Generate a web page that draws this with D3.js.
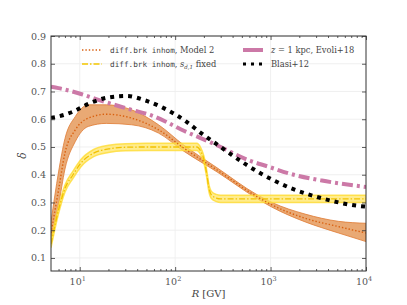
<!DOCTYPE html>
<html>
<head>
<meta charset="utf-8">
<script src="https://cdn.jsdelivr.net/npm/d3@7"></script>
<style>
  body { margin: 0; background: #fff; }
  svg text { font-family: "DejaVu Serif", "Liberation Serif", serif; }
  .mono { font-family: "DejaVu Sans Mono", "Liberation Mono", monospace; }
</style>
</head>
<body>
<svg id="chart" width="407" height="305"></svg>
<script>
// ---- data ----
let modelR     = [5, 6, 7, 9, 12.3, 19, 35, 67, 123, 275, 721, 1035, 2306, 5150, 10000];
let modelMid   = [0.19, 0.345, 0.478, 0.562, 0.604, 0.618, 0.604, 0.562, 0.496, 0.417, 0.321, 0.291, 0.243, 0.213, 0.19];
let modelLow   = [0.165, 0.29, 0.42, 0.52, 0.574, 0.585, 0.58, 0.55, 0.485, 0.41, 0.314, 0.283, 0.23, 0.19, 0.159];
let modelHigh  = [0.23, 0.41, 0.53, 0.61, 0.652, 0.652, 0.634, 0.58, 0.507, 0.425, 0.328, 0.3, 0.258, 0.232, 0.225];

let fixedR     = [5, 6, 7, 8.5, 10.3, 14, 20, 30, 50, 100, 169, 185, 200, 215, 225, 240, 270, 300, 1000, 10000];
let fixedMid   = [0.15, 0.273, 0.35, 0.40, 0.442, 0.478, 0.493, 0.499, 0.5, 0.5, 0.5, 0.485, 0.455, 0.40, 0.355, 0.327, 0.316, 0.313, 0.313, 0.313];
let fixedHalf  = 0.013;

let evoliR     = [5, 6, 10.5, 15.7, 26.5, 35, 57, 79, 117, 180, 260, 614, 930, 1545, 3450, 10000];
let evoliDelta = [0.717, 0.712, 0.69, 0.67, 0.646, 0.634, 0.613, 0.592, 0.562, 0.534, 0.51, 0.45, 0.43, 0.405, 0.379, 0.356];

let blasiR     = [5, 5.6, 8.6, 12.8, 19.6, 31, 48.4, 74, 130, 187, 270, 394, 574, 832, 1545, 3450, 8700, 10000];
let blasiDelta = [0.605, 0.608, 0.628, 0.658, 0.678, 0.684, 0.668, 0.642, 0.592, 0.55, 0.511, 0.471, 0.433, 0.40, 0.355, 0.315, 0.287, 0.285];

let yTicks = [0.1, 0.2, 0.3, 0.4, 0.5, 0.6, 0.7, 0.8, 0.9];
let xTicks = [10, 100, 1000, 10000];
let xTickExp = ['1', '2', '3', '4'];

// ---- layout ----
let svg = d3.select('#chart');
let pad = {t: 36, r: 41, b: 34, l: 51};
let W = 407 - pad.l - pad.r;
let H = 305 - pad.t - pad.b;

let xScale = d3.scaleLog().domain([5, 10000]).range([0, W]);
let yScale = d3.scaleLinear().domain([0.053, 0.9]).range([H, 0]);

let g = svg.append('g').attr('transform', `translate(${pad.l},${pad.t})`);

// grid
g.append('g').selectAll('line').data(yTicks).join('line')
    .attr('x1', 0).attr('x2', W)
    .attr('y1', d => yScale(d)).attr('y2', d => yScale(d))
    .attr('stroke', '#ececec').attr('stroke-width', 0.8);
g.append('g').selectAll('line').data(xTicks.slice(0, 3)).join('line')
    .attr('x1', d => xScale(d)).attr('x2', d => xScale(d))
    .attr('y1', 0).attr('y2', H)
    .attr('stroke', '#ececec').attr('stroke-width', 0.8);

// curves
let lineFun = (xs) => d3.line()
    .x((d, i) => xScale(xs[i]))
    .y(d => yScale(d))
    .curve(d3.curveMonotoneX);

g.append('clipPath').attr('id', 'plotclip')
    .append('rect').attr('width', W).attr('height', H);
let plot = g.append('g').attr('clip-path', 'url(#plotclip)');

// orange band (Model 2)
let bandArea = d3.area()
    .x((d, i) => xScale(modelR[i]))
    .y0((d, i) => yScale(modelLow[i]))
    .y1((d, i) => yScale(modelHigh[i]))
    .curve(d3.curveMonotoneX);
plot.append('path').datum(modelMid)
    .attr('d', bandArea)
    .attr('fill', '#e59a5c').attr('fill-opacity', 0.85)
    .attr('stroke', '#e07b34').attr('stroke-width', 0.8);

// yellow band (s_d,1 fixed)
let fixedArea = d3.area()
    .x((d, i) => xScale(fixedR[i]))
    .y0(d => yScale(d - fixedHalf))
    .y1(d => yScale(d + fixedHalf))
    .curve(d3.curveMonotoneX);
plot.append('path').datum(fixedMid)
    .attr('d', fixedArea)
    .attr('fill', '#ffe45c').attr('fill-opacity', 0.7)
    .attr('stroke', '#ffdc33').attr('stroke-width', 1.5).attr('stroke-opacity', 0.8);
plot.append('path').datum(fixedMid)
    .attr('d', lineFun(fixedR))
    .attr('fill', 'none').attr('stroke', '#f2c200').attr('stroke-width', 1.3)
    .attr('stroke-dasharray', '6,2,1.5,2');

// orange median
plot.append('path').datum(modelMid)
    .attr('d', lineFun(modelR))
    .attr('fill', 'none').attr('stroke', '#d9600f').attr('stroke-width', 1.4)
    .attr('stroke-dasharray', '1.4,2');

// Evoli+18
plot.append('path').datum(evoliDelta)
    .attr('d', lineFun(evoliR))
    .attr('fill', 'none').attr('stroke', '#cc79a7').attr('stroke-width', 4)
    .attr('stroke-dasharray', '11,4,3,4');

// Blasi+12
plot.append('path').datum(blasiDelta)
    .attr('d', lineFun(blasiR))
    .attr('fill', 'none').attr('stroke', '#000').attr('stroke-width', 4)
    .attr('stroke-dasharray', '4,5');

// axes
let axisColor = '#333';
let minorTicks = [];
[1, 10, 100, 1000].forEach(dec => {
    for (let k = 2; k <= 9; k++) {
        let v = dec * k;
        if (v > 5 && v < 10000) minorTicks.push(v);
    }
});
minorTicks = minorTicks.filter(v => xTicks.indexOf(v) < 0);

let xBottom = g.append('g').attr('transform', `translate(0,${H})`)
    .call(d3.axisBottom(xScale).tickValues(xTicks).tickSize(-4).tickFormat(''));
let xBottomMinor = g.append('g').attr('transform', `translate(0,${H})`)
    .call(d3.axisBottom(xScale).tickValues(minorTicks).tickSize(-2).tickFormat(''));
let xTop = g.append('g')
    .call(d3.axisTop(xScale).tickValues(xTicks).tickSize(-4).tickFormat(''));
let xTopMinor = g.append('g')
    .call(d3.axisTop(xScale).tickValues(minorTicks).tickSize(-2).tickFormat(''));
let yLeft = g.append('g')
    .call(d3.axisLeft(yScale).tickValues(yTicks).tickSize(-4).tickFormat(''));
let yRight = g.append('g').attr('transform', `translate(${W},0)`)
    .call(d3.axisRight(yScale).tickValues(yTicks).tickSize(-4).tickFormat(''));

[xBottom, xBottomMinor, xTop, xTopMinor, yLeft, yRight].forEach(a => {
    a.select('.domain').remove();
    a.selectAll('line').attr('stroke', axisColor).attr('stroke-width', 0.8);
});
g.append('rect').attr('width', W).attr('height', H)
    .attr('fill', 'none').attr('stroke', axisColor).attr('stroke-width', 1);

// tick labels
g.append('g').selectAll('text').data(yTicks).join('text')
    .attr('x', -5).attr('y', d => yScale(d) + 3.5)
    .attr('text-anchor', 'end')
    .style('font-size', '9.5px').attr('fill', '#555')
    .text(d => d.toFixed(1));

let xl = g.append('g').selectAll('text').data(xTicks).join('text')
    .attr('x', d => xScale(d) - 2).attr('y', H + 14)
    .attr('text-anchor', 'middle')
    .style('font-size', '9.5px').attr('fill', '#555');
xl.append('tspan').text('10');
xl.append('tspan').attr('dy', -4).style('font-size', '6.5px').text((d, i) => xTickExp[i]);

// axis titles
let xTitle = svg.append('text')
    .attr('x', pad.l + W / 2).attr('y', 297)
    .attr('text-anchor', 'middle')
    .style('font-size', '10px').attr('fill', '#444');
xTitle.append('tspan').style('font-style', 'italic').text('R');
xTitle.append('tspan').text(' [GV]');

svg.append('text')
    .attr('transform', `translate(26,${pad.t + H / 2 + 2}) rotate(-90)`)
    .attr('text-anchor', 'middle')
    .style('font-size', '10.5px').style('font-style', 'italic').attr('fill', '#444')
    .text('δ');

// legend
let legend = g.append('g').attr('class', 'legend');
let legItems = [
    {x: 31, y: 14, color: '#d9600f', width: 1.4, dash: '1.4,2', mono: 'diff.brk inhom', rest: ', Model 2'},
    {x: 31, y: 28, color: '#f5c800', width: 1.5, dash: '6,2,1.5,2', mono: 'diff.brk inhom', sub: 'd,1', tail: ' fixed'},
    {x: 192, y: 14, color: '#cc79a7', width: 4, dash: null, italic: 'z', rest: ' = 1 kpc, Evoli+18'},
    {x: 192, y: 28, color: '#000', width: 3, dash: '3,5', rest: 'Blasi+12'}
];
legItems.forEach(it => {
    let row = legend.append('g').attr('transform', `translate(${it.x},${it.y})`);
    row.append('line')
        .attr('x1', 0).attr('x2', 20).attr('y1', 0).attr('y2', 0)
        .attr('stroke', it.color).attr('stroke-width', it.width)
        .attr('stroke-dasharray', it.dash);
    let t = row.append('text').attr('x', 28).attr('y', 3)
        .style('font-size', '8.3px').attr('fill', '#444');
    if (it.mono) t.append('tspan').attr('class', 'mono').style('font-size', '7.7px').text(it.mono);
    if (it.italic) t.append('tspan').style('font-style', 'italic').text(it.italic);
    if (it.sub) {
        t.append('tspan').text(', ');
        t.append('tspan').style('font-style', 'italic').text('s');
        t.append('tspan').attr('dy', 2).style('font-size', '5.5px').style('font-style', 'italic').text(it.sub);
        t.append('tspan').attr('dy', -2).text(it.tail);
    } else {
        t.append('tspan').text(it.rest);
    }
});
</script>
</body>
</html>
